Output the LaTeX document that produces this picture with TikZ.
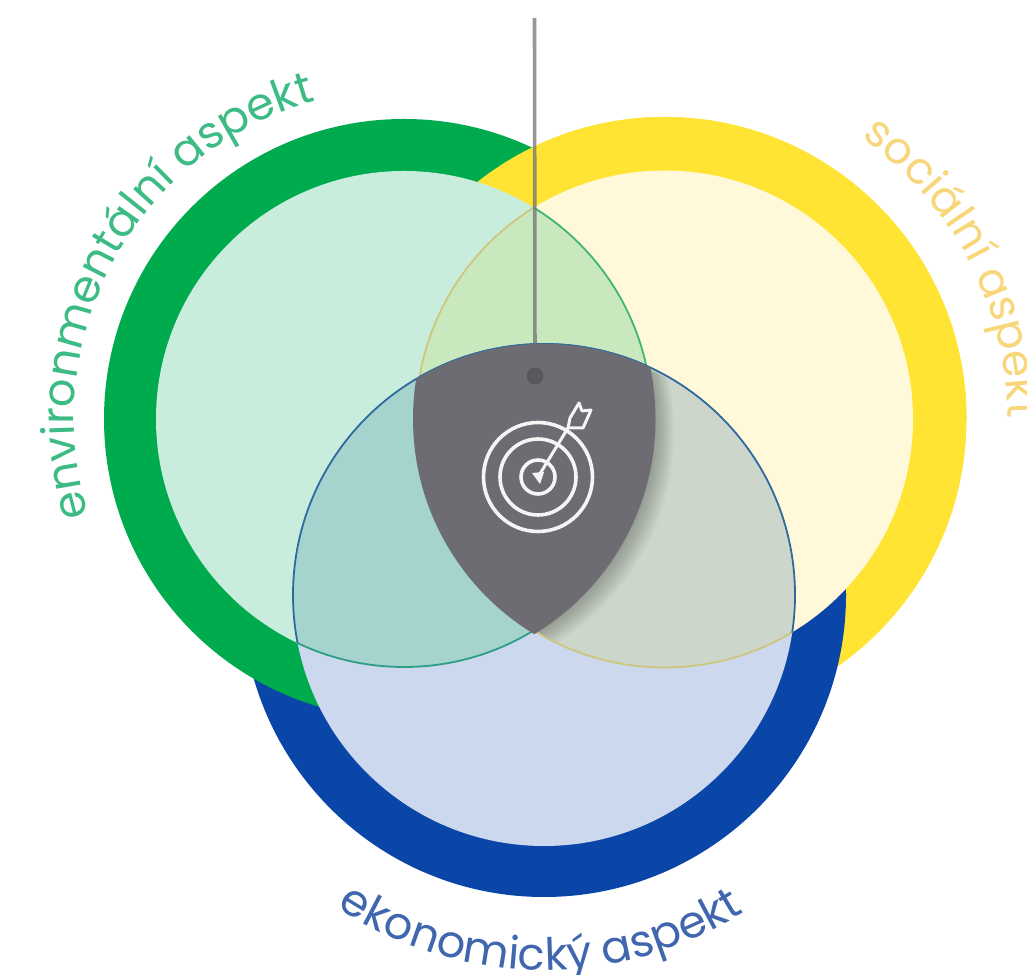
\documentclass[tikz,border=0pt]{standalone}
\usepackage{fontspec}
\setmainfont{Poppins}
\usetikzlibrary{decorations.text}
\definecolor{gring}{HTML}{00AB4E}
\definecolor{yring}{HTML}{FFE433}
\definecolor{bring}{HTML}{0A46A8}
\definecolor{gpale}{HTML}{C9EDDD}
\definecolor{ypale}{HTML}{FFF9D9}
\definecolor{bpale}{HTML}{CBD8EE}
\definecolor{gy}{HTML}{C9E8BE}
\definecolor{gb}{HTML}{A5D3CE}
\definecolor{yb}{HTML}{CCD6CA}
\definecolor{core}{HTML}{6C6C72}
\definecolor{gline}{HTML}{3FB577}
\definecolor{gbline}{HTML}{2E9E84}
\definecolor{yline}{HTML}{CDC77E}
\definecolor{bline}{HTML}{2F6A9E}
\definecolor{gtext}{HTML}{3DBB85}
\definecolor{ytext}{HTML}{F8D77A}
\definecolor{btext}{HTML}{3F66AE}
\tikzset{
  x=1pt,y=1pt,
  icon/.style={draw=white!93!core,line width=3.6pt,line join=round,line cap=round}
}
\newcommand{\GD}{(404,555) circle[radius=248]}
\newcommand{\YD}{(664.5,555) circle[radius=248.5]}
\newcommand{\BD}{(544,379) circle[radius=251]}
\begin{document}
\begin{tikzpicture}
\useasboundingbox (0,0) rectangle (1027,974);
\fill[white] (0,0) rectangle (1027,974);
% rings
\fill[yring] (664.5,555) circle[radius=302];
\fill[bring] (544,379) circle[radius=302];
\fill[gring] (404,555) circle[radius=300];
\begin{scope}
  \clip (300,555) rectangle (1027,974);
  \fill[yring] (664.5,555) circle[radius=302];
\end{scope}
% discs
\fill[bpale] \BD;
\fill[gpale] \GD;
\fill[ypale] \YD;
\begin{scope}\clip \GD; \fill[gb] \BD; \fill[gy] \YD; \end{scope}
\begin{scope}\clip \YD; \fill[yb] \BD; \end{scope}
% soft shadow of the core
\begin{scope}
  \clip \BD;
  \foreach \k in {22,20,...,2}{
    \begin{scope}[shift={(\k,-\k*0.6)}]
      \clip \GD; \clip \YD;
      \fill[black,opacity=0.028] \BD;
    \end{scope}
  }
\end{scope}
% outlines
\begin{scope}\clip \YD; \draw[gline,line width=1.8pt] \GD; \end{scope}
\begin{scope}\clip \BD; \draw[gbline,line width=1.8pt] \GD; \end{scope}
\begin{scope}\clip \GD; \draw[yline,line width=1.8pt] \YD; \end{scope}
\begin{scope}\clip \BD; \draw[yline,line width=1.8pt] \YD; \end{scope}
\begin{scope}\clip \GD; \draw[bline,line width=1.8pt] \BD; \end{scope}
\begin{scope}\clip \YD; \draw[bline,line width=1.8pt] \BD; \end{scope}
% core
\begin{scope}
  \clip (404,555) circle[radius=251.5];
  \clip (664.5,555) circle[radius=251.5];
  \fill[core] \BD;
\end{scope}
% leader
\coordinate (top) at (534.5,956);
\coordinate (dotc) at (535,598);
\draw[core,opacity=0.7,line width=3.6pt] (top) -- (dotc);
\fill[core!82!black] (dotc) circle[radius=8.5];
% target icon
\coordinate (tc) at (538,497);
\draw[icon] (tc) circle[radius=54.5];
\draw[icon] (tc) circle[radius=38];
\draw[icon] (tc) circle[radius=17];
\fill[white!93!core] (tc) ++(-6,4) -- ++(12,1) -- ++(-4,-12) -- cycle;
\coordinate (shaftend) at (568,546);
\draw[icon,line width=3pt] (tc) -- (shaftend);
\draw[icon,line width=3pt] (shaftend) -- (570,556) -- (579,571) -- (582,563) -- (591,564) -- (583,546) -- cycle;
% labels
\path[decorate,decoration={text along path,text align=left,
   text={|\fontsize{44.6}{44.6}\selectfont\color{gtext}|environmentální aspekt}}]
   (404,555) ++(197:330) arc[start angle=197,end angle=90,radius=330];
\path[decorate,decoration={text along path,text align=left,
   text={|\fontsize{44}{44}\selectfont\color{ytext}|sociální aspekt}}]
   (664.5,555) ++(55:343) arc[start angle=55,end angle=-20,radius=343];
\path[decorate,decoration={text along path,text align=left,
   text={|\fontsize{44.6}{44.6}\selectfont\color{btext}|ekonomický aspekt}}]
   (544,379) ++(-123.5:375) arc[start angle=-123.5,end angle=-35,radius=375];
\end{tikzpicture}
\end{document}
